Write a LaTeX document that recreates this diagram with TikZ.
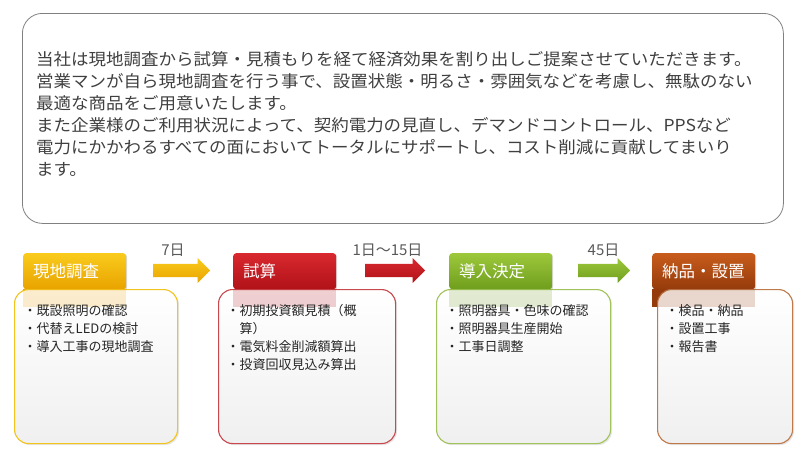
\documentclass[tikz,border=0pt]{standalone}
\usepackage{fontspec}
\setmainfont{Noto Sans CJK JP}
\newfontfamily\leadfont[FakeStretch=1.06]{Noto Sans CJK JP}
\usetikzlibrary{shapes.arrows,shadows}
\definecolor{ylwTop}{HTML}{F9CB1C}
\definecolor{ylwBot}{HTML}{E9A300}
\definecolor{ylwLine}{HTML}{F2C41E}
\definecolor{redTop}{HTML}{D9282F}
\definecolor{redBot}{HTML}{B01218}
\definecolor{redLine}{HTML}{C9484E}
\definecolor{grnTop}{HTML}{9DC83C}
\definecolor{grnBot}{HTML}{6F9E1D}
\definecolor{grnLine}{HTML}{A2C35C}
\definecolor{brnTop}{HTML}{C85C1C}
\definecolor{brnBot}{HTML}{953B0B}
\definecolor{brnLine}{HTML}{BF7A4C}
\definecolor{bodyText}{HTML}{404040}
\definecolor{dayText}{HTML}{595959}

\begin{document}
\begin{tikzpicture}[x=1pt, y=-1pt,
  head/.style={anchor=north west, minimum width=103pt, minimum height=36pt,
    inner xsep=10pt, text width=83pt, align=left, rounded corners=3pt,
    text=white, font=\fontsize{16.5}{18}\selectfont,
    drop shadow={opacity=0.3, shadow xshift=1pt, shadow yshift=-1pt}},
  card/.style={anchor=north west, minimum height=154pt, rounded corners=14pt,
    line width=1.1pt, top color=white, bottom color=black!6,
    drop shadow={opacity=0.2, shadow xshift=1.5pt, shadow yshift=-1.5pt}},
  items/.style={anchor=north west, align=left, inner sep=0pt,
    text=black!85, font=\fontsize{13}{18}\selectfont},
  dayarrow/.style={single arrow, single arrow head extend=6pt,
    anchor=tail, inner sep=0pt, shape border rotate=0},
  daylbl/.style={anchor=base, text=dayText, inner sep=0pt,
    font=\fontsize{15}{15}\selectfont}]
  \useasboundingbox (0,0) rectangle (800,458);
  % introduction panel
  \node[anchor=north west, draw=black!50, line width=0.8pt, fill=white,
    rounded corners=20pt, minimum width=761pt, minimum height=210pt]
    (panel) at (22,13) {};
  \node[anchor=north west, align=left, inner sep=0pt, text=bodyText,
    font=\leadfont\fontsize{16.5}{22}\selectfont] (lead) at (36,51)
    {当社は現地調査から試算・見積もりを経て経済効果を割り出しご提案させていただきます。\\
     営業マンが自ら現地調査を行う事で、設置状態・明るさ・雰囲気などを考慮し、無駄のない\\
     最適な商品をご用意いたします。\\
     また企業様のご利用状況によって、契約電力の見直し、デマンドコントロール、PPSなど\\
     電力にかかわるすべての面においてトータルにサポートし、コスト削減に貢献してまいり\\
     ます。};
  % step 1
  \node[head, top color=ylwTop, bottom color=ylwBot] (h1) at (23,253) {現地調査};
  \fill[ylwBot] (h1.south west) rectangle ++(103,18);
  \node[card, draw=ylwLine, minimum width=163pt] (c1) at (14,289) {};
  \fill[ylwBot, opacity=0.2] (h1.south west) rectangle ++(103,18);
  \node[items] (t1) at ([shift={(9.5,15)}]c1.north west)
    {・既設照明の確認\\・代替えLEDの検討\\・導入工事の現地調査};
  % step 2
  \node[head, top color=redTop, bottom color=redBot] (h2) at (233,253) {試算};
  \fill[redBot] (h2.south west) rectangle ++(103,18);
  \node[card, draw=redLine, minimum width=177pt] (c2) at (218,289) {};
  \fill[redBot, opacity=0.2] (h2.south west) rectangle ++(103,18);
  \node[items] (t2) at ([shift={(8.5,15)}]c2.north west)
    {・初期投資額見積（概\\\phantom{・}算）\\・電気料金削減額算出\\・投資回収見込み算出};
  % step 3
  \node[head, top color=grnTop, bottom color=grnBot] (h3) at (449,253) {導入決定};
  \fill[grnBot] (h3.south west) rectangle ++(103,18);
  \node[card, draw=grnLine, minimum width=174pt] (c3) at (436,289) {};
  \fill[grnBot, opacity=0.2] (h3.south west) rectangle ++(103,18);
  \node[items] (t3) at ([shift={(9.5,15)}]c3.north west)
    {・照明器具・色味の確認\\・照明器具生産開始\\・工事日調整};
  % step 4
  \node[head, top color=brnTop, bottom color=brnBot] (h4) at (652,253) {納品・設置};
  \fill[brnBot] (h4.south west) rectangle ++(103,18);
  \node[card, draw=brnLine, minimum width=135pt] (c4) at (657,289) {};
  \fill[brnBot, opacity=0.2] (h4.south west) rectangle ++(103,18);
  \node[items] (t4) at ([shift={(8.5,15)}]c4.north west)
    {・検品・納品\\・設置工事\\・報告書};
  % arrows with lead times
  \node[dayarrow, minimum height=57pt, top color=ylwTop, bottom color=ylwBot]
    (a1) at (153,270.5) {\rule{0pt}{13pt}};
  \node[dayarrow, minimum height=60pt, top color=redTop, bottom color=redBot]
    (a2) at (365,270.5) {\rule{0pt}{13pt}};
  \node[dayarrow, minimum height=52pt, top color=grnTop, bottom color=grnBot]
    (a3) at (578,270.5) {\rule{0pt}{13pt}};
  \node[daylbl] (d1) at (173,255.5) {7日};
  \node[daylbl] (d2) at (387.5,255.5) {1日〜15日};
  \node[daylbl] (d3) at (603.5,255.5) {45日};
\end{tikzpicture}
\end{document}
